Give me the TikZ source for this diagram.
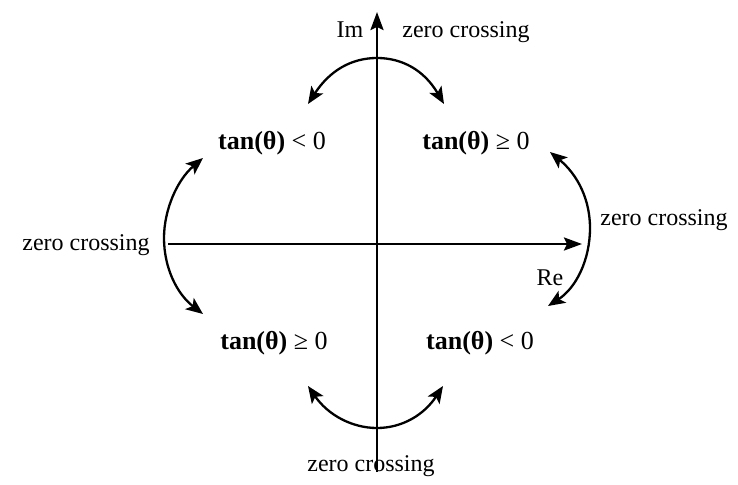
\documentclass[tikz,border=0pt]{standalone}
\usepackage{fontspec}
\setmainfont{Liberation Serif}
\usetikzlibrary{arrows.meta}
\tikzset{
  every picture/.style={line width=2.6pt},
  axis/.style={-{Stealth[length=18pt, width=13pt, inset=3pt]}},
  swing/.style={{Stealth[length=17pt, width=14pt, inset=4pt]}-{Stealth[length=17pt, width=14pt, inset=4pt]}, line width=2.3pt},
  note/.style={font=\fontsize{24}{28}\selectfont, inner sep=1pt},
  region/.style={font=\fontsize{26}{30}\selectfont, inner sep=1pt},
}
\begin{document}
\begin{tikzpicture}[x=1pt, y=-1pt]
  \useasboundingbox (0,0) rectangle (738,484);
  % axes
  \coordinate (imbot) at (377,472);
  \coordinate (imtop) at (377,12);
  \coordinate (releft) at (168,244);
  \coordinate (reright) at (582,244);
  \draw[axis] (imbot) -- (imtop);
  \draw[axis] (releft) -- (reright);
  \node[note] (im) at (350,30) {Im};
  \node[note] (re) at (550,278) {Re};
  % quadrant labels
  \node[region] (qtl) at (272,143) {\textbf{tan(θ)} < 0};
  \node[region] (qtr) at (476,143) {\textbf{tan(θ)} ≥ 0};
  \node[region] (qbl) at (274,343) {\textbf{tan(θ)} ≥ 0};
  \node[region] (qbr) at (480,343) {\textbf{tan(θ)} < 0};
  % zero crossings
  \node[note] (zctop) at (466,32) {zero crossing};
  \node[note] (zcleft) at (86,245) {zero crossing};
  \node[note] (zcright) at (664,220) {zero crossing};
  \node[note] (zcbot) at (371,466) {zero crossing};
  % swing arcs
  \coordinate (t1) at (308,104);
  \coordinate (t2) at (444,104);
  \coordinate (l1) at (203,158);
  \coordinate (l2) at (203,314);
  \coordinate (r1) at (550,152);
  \coordinate (r2) at (548,306);
  \coordinate (b1) at (308,386);
  \coordinate (b2) at (443,386);
  \draw[swing] (t1) .. controls (330,70) and (352,58) .. (377,58)
    .. controls (402,58) and (424,70) .. (t2);
  \draw[swing] (l1) .. controls (177,180) and (164,210) .. (164,238)
    .. controls (164,268) and (177,294) .. (l2);
  \draw[swing] (r1) .. controls (578,175) and (590,200) .. (590,228)
    .. controls (590,260) and (576,288) .. (r2);
  \draw[swing] (b1) .. controls (328,415) and (352,428) .. (377,428)
    .. controls (402,428) and (424,415) .. (b2);
\end{tikzpicture}
\end{document}
